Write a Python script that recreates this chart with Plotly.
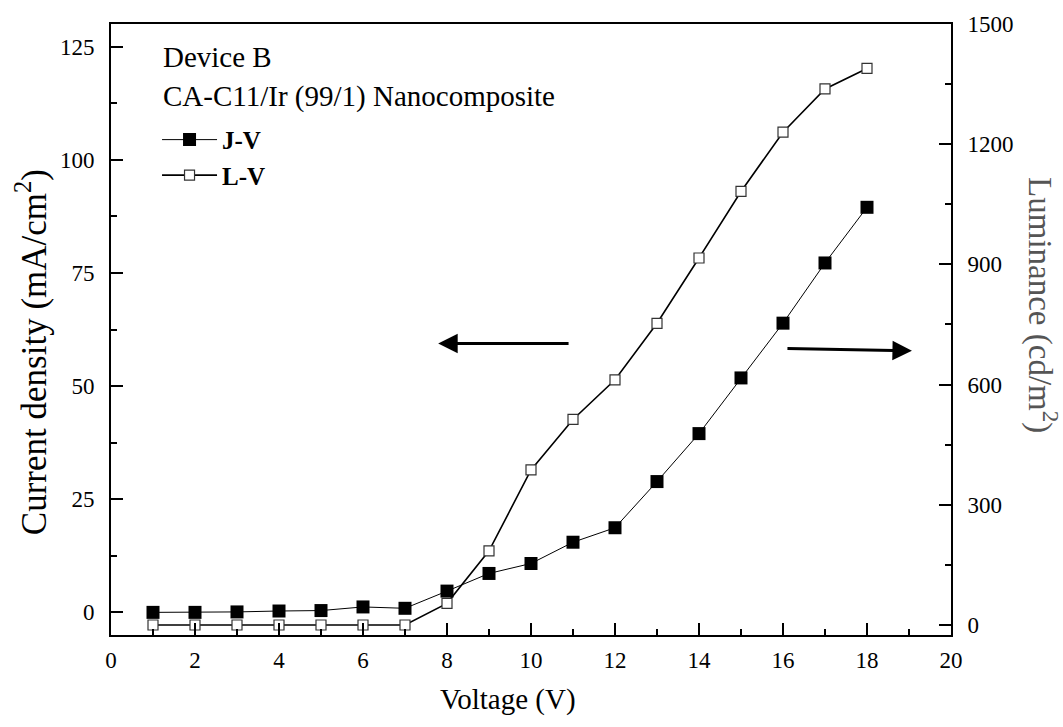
import plotly.graph_objects as go

voltage = [1, 2, 3, 4, 5, 6, 7, 8, 9, 10, 11, 12, 13, 14, 15, 16, 17, 18]
current_density = [0.0, 0.0, 0.1, 0.3, 0.4, 1.2, 0.9, 4.7, 8.6, 10.8, 15.5, 18.7, 28.9, 39.5, 51.8, 63.9, 77.2, 89.5]
luminance = [0, 0, 0, 0, 0, 0, 0, 54, 185, 387, 513, 612, 753, 916, 1082, 1230, 1338, 1389]

x_ticks = [0, 2, 4, 6, 8, 10, 12, 14, 16, 18, 20]
y_ticks = [0, 25, 50, 75, 100, 125]
y2_ticks = [0, 300, 600, 900, 1200, 1500]

FONT = "Liberation Serif, Times New Roman, serif"

fig = go.Figure()
fig.add_trace(go.Scatter(
    x=voltage, y=current_density, name="<b>J-V</b>", mode="lines+markers",
    line=dict(color="black", width=1),
    marker=dict(symbol="square", size=13, color="black", line=dict(width=0)),
    yaxis="y",
))
fig.add_trace(go.Scatter(
    x=voltage, y=luminance, name="<b>L-V</b>", mode="lines+markers",
    line=dict(color="black", width=1.6),
    marker=dict(symbol="square", size=10, color="white", line=dict(width=1.2, color="#333")),
    yaxis="y2",
))

axis_common = dict(
    showline=True, linecolor="black", linewidth=2,
    ticks="inside", ticklen=12, tickwidth=2, tickcolor="black",
    showgrid=False, zeroline=False,
    tickfont=dict(family=FONT, size=23, color="black"),
)

fig.update_layout(
    width=1063, height=727, autosize=False,
    margin=dict(l=111, r=112, t=20, b=92),
    paper_bgcolor="white", plot_bgcolor="white",
    font=dict(family=FONT, color="black"),
    showlegend=True,
    legend=dict(
        x=0.0548, y=0.848, xanchor="left", yanchor="top",
        bgcolor="rgba(0,0,0,0)", borderwidth=0,
        font=dict(family=FONT, size=25, color="black"),
        itemwidth=55, tracegroupgap=0,
    ),
    xaxis=dict(
        range=[0, 20], tickvals=x_ticks, mirror=True,
        minor=dict(dtick=1, ticks="inside", ticklen=6, tickwidth=2, tickcolor="black"),
        ticklabelstandoff=3,
        **axis_common,
    ),
    yaxis=dict(
        range=[-5, 130], tickvals=y_ticks,
        minor=dict(dtick=12.5, tick0=0, ticks="inside", ticklen=6, tickwidth=2, tickcolor="black"),
        ticklabelstandoff=10,
        **axis_common,
    ),
    yaxis2=dict(
        range=[-25, 1500], tickvals=y2_ticks, overlaying="y", side="right",
        minor=dict(dtick=150, tick0=0, ticks="inside", ticklen=6, tickwidth=2, tickcolor="black"),
        ticklabelstandoff=10,
        **axis_common,
    ),
)

annotations = [
    dict(text="Device B", xref="paper", yref="paper", x=0.0595, y=0.946,
         xanchor="left", yanchor="middle", showarrow=False,
         font=dict(family=FONT, size=29, color="black")),
    dict(text="CA-C11/Ir (99/1) Nanocomposite", xref="paper", yref="paper", x=0.0595, y=0.881,
         xanchor="left", yanchor="middle", showarrow=False,
         font=dict(family=FONT, size=29, color="black")),
    dict(text="Voltage (V)", xref="paper", yref="paper", x=0.4726, y=-0.1057,
         xanchor="center", yanchor="middle", showarrow=False,
         font=dict(family=FONT, size=29, color="black")),
    dict(text="Current density (mA/cm<sup>2</sup>)", xref="paper", yref="paper", x=-0.0952, y=0.463,
         xanchor="center", yanchor="middle", showarrow=False, textangle=-90,
         font=dict(family=FONT, size=35, color="black")),
    dict(text="Luminance (cd/m<sup>2</sup>)", xref="paper", yref="paper", x=1.1095, y=0.54,
         xanchor="center", yanchor="middle", showarrow=False, textangle=90,
         font=dict(family=FONT, size=33, color="#555555")),
    dict(text="", xref="x", yref="y", x=7.79, y=59.4, axref="x", ayref="y", ax=10.93, ay=59.4,
         showarrow=True, arrowhead=2, arrowsize=1.3, arrowwidth=3, arrowcolor="black", standoff=0),
    dict(text="", xref="x", yref="y", x=19.07, y=57.8, axref="x", ayref="y", ax=16.07, ay=58.3,
         showarrow=True, arrowhead=2, arrowsize=1.3, arrowwidth=3, arrowcolor="black", standoff=0),
]
fig.update_layout(annotations=annotations)

fig.write_html("out.html")
